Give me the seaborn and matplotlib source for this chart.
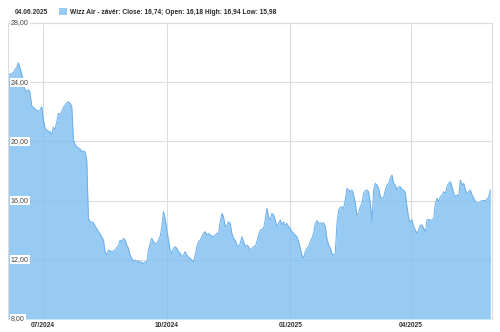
import matplotlib
matplotlib.use("Agg")
import matplotlib.pyplot as plt
from matplotlib.patches import Patch
import numpy as np
import pandas as pd
import seaborn as sns

# ---------------- data ----------------
header_date = "04.06.2025"
legend_label = "Wizz Air - závér: Close: 16,74; Open: 16,18 High: 16,94 Low: 15,98"
start_date = "2024-06-05"
end_date = "2025-05-30"

seg_jun_jul = [24.37, 24.55, 24.6, 24.65, 24.85, 25.0, 25.32, 24.96, 24.55, 23.9,
               23.5, 23.36, 23.5, 23.3, 22.4, 22.3, 22.2, 22.1, 22.05, 22.1,
               22.35, 21.5, 20.9, 20.75, 20.7, 20.65, 20.43, 20.97, 20.77, 21.33,
               21.9, 21.8, 22.0, 22.3, 22.46, 22.6, 22.68, 22.57, 22.4, 20.1,
               19.8, 19.64, 19.55, 19.5, 19.3, 19.35]
seg_aug_oct = [19.3, 18.74, 14.8, 14.57, 14.55, 14.5, 14.28, 14.1, 13.9, 13.75,
               13.56, 13.34, 12.55, 12.32, 12.66, 12.6, 12.55, 12.6, 12.66, 12.84,
               12.93, 13.34, 13.22, 13.45, 13.34, 13.0, 12.78, 12.32, 12.1, 11.87,
               11.99, 11.87, 11.94, 11.8, 11.87, 11.72, 11.87, 11.8, 12.66, 13.11,
               13.45, 13.22, 13.11, 13.11, 13.34, 13.56, 14.24, 15.25, 14.8, 14.01,
               13.34]
seg_oct_dec = [12.66, 12.44, 12.78, 12.89, 12.78, 12.55, 12.44, 12.21, 12.32, 12.55,
               12.32, 12.17, 12.1, 11.99, 11.87, 12.32, 12.89, 13.22, 13.34, 13.56,
               13.79, 13.9, 13.68, 13.79, 13.68, 13.61, 13.56, 13.68, 13.79, 13.74,
               14.57, 15.14, 14.91, 14.24, 14.35, 14.57, 14.46, 13.79, 13.45, 13.34,
               13.0, 12.89, 13.11, 13.56, 13.22, 12.89, 13.0, 12.89, 12.66, 12.78,
               12.89]
seg_dec_feb = [12.89, 13.22, 13.68, 14.01, 14.06, 14.12, 14.69, 15.48, 14.91, 14.69,
               15.14, 15.03, 14.69, 14.24, 14.46, 14.69, 14.35, 14.57, 14.35, 14.46,
               14.24, 14.12, 13.9, 13.79, 13.68, 13.56, 13.22, 12.78, 12.32, 12.1,
               12.55, 12.78, 12.89, 13.22, 13.45, 13.79, 14.46, 14.64, 14.46, 14.5,
               14.46, 14.5, 14.24, 13.45, 13.0, 12.78, 12.44, 12.32, 12.44, 14.46,
               15.36]
seg_feb_apr = [15.55, 15.59, 15.48, 16.04, 16.83, 16.72, 16.6, 16.72, 16.38, 15.82,
               15.03, 15.14, 15.59, 15.82, 16.49, 16.67, 16.72, 16.6, 15.82, 14.57,
               16.72, 17.17, 17.05, 16.83, 16.27, 16.16, 16.22, 16.72, 17.05, 17.17,
               17.5, 17.73, 17.17, 17.05, 16.72, 16.94, 16.94, 16.72, 16.72, 16.49,
               15.59, 14.8, 14.57, 14.69, 14.24, 14.01, 13.79, 14.01]
seg_apr_jun = [14.35, 14.35, 14.12, 13.9, 14.69, 14.73, 14.69, 14.69, 14.8, 15.82,
               16.16, 15.93, 16.27, 16.38, 16.6, 16.49, 16.94, 17.17, 17.28, 16.94,
               16.49, 16.27, 16.38, 16.27, 17.39, 17.05, 17.17, 16.72, 16.49, 16.6,
               16.72, 16.38, 16.16, 15.93, 15.86, 15.82, 15.93, 16.0, 16.0, 16.0,
               16.09, 16.27, 16.74]

y_ticks = [8, 12, 16, 20, 24, 28]
x_tick_dates = ["2024-07-01", "2024-10-01", "2025-01-01", "2025-04-01"]
x_tick_labels = ["07/2024", "10/2024", "01/2025", "04/2025"]

# ---------------- styling ----------------
FILL = "#7fbff2"
FILL_SOLID = "#99ccf5"
LINE = "#6aaee8"
GRID = "#dcdcdc"
TEXT = "#333333"
FS = 4.8
FS_Y = 5.1

sns.set_style("white")
plt.rcParams["font.family"] = ["Liberation Sans", "DejaVu Sans"]

close = seg_jun_jul + seg_aug_oct + seg_oct_dec + seg_dec_feb + seg_feb_apr + seg_apr_jun
df = pd.DataFrame({
    "date": pd.date_range(start_date, end_date, periods=len(close)),
    "close": close,
})

fig = plt.figure(figsize=(5.0, 3.32), dpi=100)
ax = fig.add_axes([8 / 500, 13 / 332, 484 / 500, 296 / 332])

ax.fill_between(df["date"], df["close"], y_ticks[0], color=FILL, alpha=0.8,
                lw=0, zorder=1)
sns.lineplot(data=df, x="date", y="close", ax=ax, color=LINE, lw=0.7, zorder=2)

ax.set_ylim(y_ticks[0], y_ticks[-1])
ax.set_xlim(df["date"].iloc[0] - pd.Timedelta(hours=6),
            df["date"].iloc[-1] + pd.Timedelta(days=1.2))
ax.set_yticks(y_ticks)
ax.set_yticklabels([])
ax.set_xticks(pd.to_datetime(x_tick_dates))
ax.set_xticklabels(x_tick_labels, fontweight="bold", fontsize=FS, color=TEXT)
ax.tick_params(axis="both", length=0)
ax.tick_params(axis="x", pad=2)
ax.set_xlabel("")
ax.set_ylabel("")
ax.grid(True, color=GRID, lw=0.8)
ax.set_axisbelow(True)

for side in ["left", "right", "top"]:
    ax.spines[side].set_visible(True)
    ax.spines[side].set_color(GRID)
    ax.spines[side].set_linewidth(0.8)
ax.spines["bottom"].set_visible(False)

for v in y_ticks:
    ax.text(0.006, v, f"{v:.2f}".replace(".", ","), transform=ax.get_yaxis_transform(),
            ha="left", va="center", fontsize=FS_Y, color="#444444", zorder=5,
            bbox=dict(facecolor="white", edgecolor="none", pad=0.8))

fig.text(15 / 500, 1 - 12 / 332, header_date, fontsize=FS, fontweight="bold",
         color=TEXT, ha="left", va="center")
fig.legend(handles=[Patch(facecolor=FILL_SOLID, edgecolor="none")], labels=[legend_label],
           loc="center left", bbox_to_anchor=(58.5 / 500, 1 - 12 / 332), frameon=False,
           handlelength=1.25, handleheight=1.25, handletextpad=0.5,
           borderpad=0, borderaxespad=0,
           prop=dict(weight="bold", size=FS))

fig.savefig("out.png", dpi=100)
